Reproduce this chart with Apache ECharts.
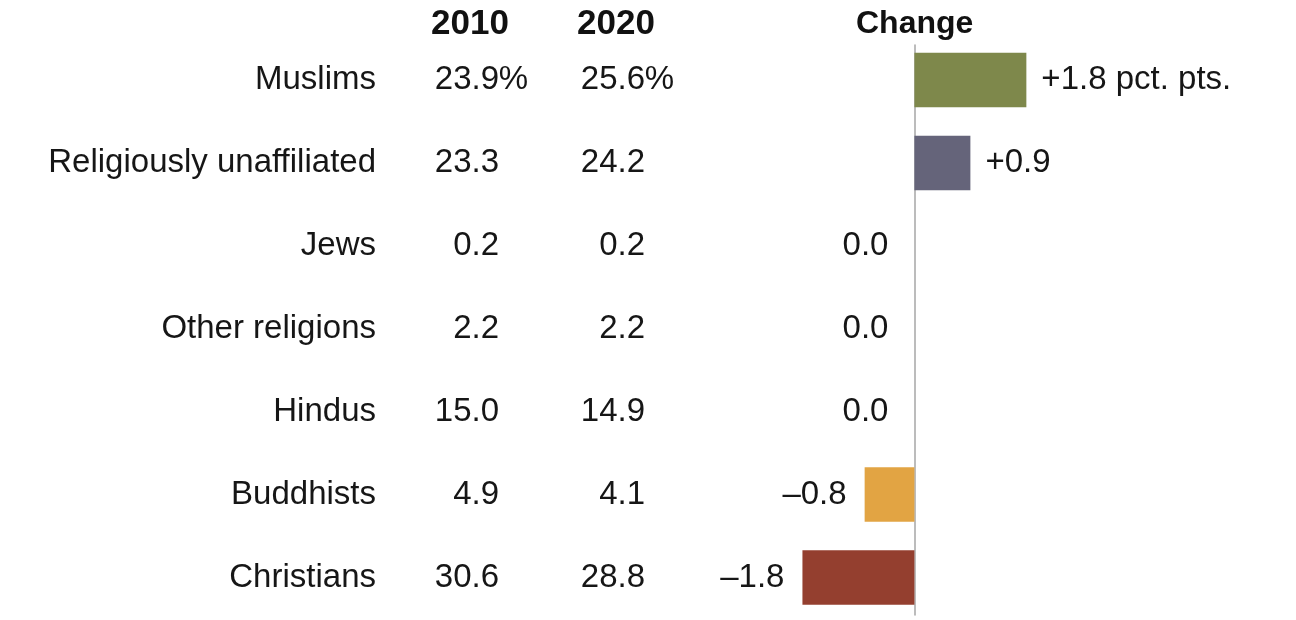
<!DOCTYPE html>
<html><head><meta charset="utf-8">
<script src="https://cdn.jsdelivr.net/npm/echarts@6/dist/echarts.min.js"></script>
<style>html,body{margin:0;padding:0;background:#fff}#c{width:1296px;height:620px}</style>
</head><body><div id="c"></div>
<script>
const categories = ['Muslims','Religiously unaffiliated','Jews','Other religions','Hindus','Buddhists','Christians'];
const share2010 = [23.9, 23.3, 0.2, 2.2, 15.0, 4.9, 30.6];
const share2020 = [25.6, 24.2, 0.2, 2.2, 14.9, 4.1, 28.8];
const change = [1.8, 0.9, 0.0, 0.0, 0.0, -0.8, -1.8];
const headers = ['2010', '2020', 'Change'];
const barColors = ['#7e884b', '#65647a', '#888888', '#888888', '#888888', '#e2a443', '#943f2f'];

const FONT = '"Liberation Sans", Arial, sans-serif';
const TXT = '#161616';
const FS = 33;

function fmtShare(v, i) {
  return i === 0 ? '{n|' + v.toFixed(1) + '}{p|%}' : '{n|' + v.toFixed(1) + '}{p|}';
}
function fmtChange(v, i) {
  let s = v > 0 ? '+' + v.toFixed(1) : v < 0 ? '\u2013' + Math.abs(v).toFixed(1) : v.toFixed(1);
  if (i === 0) s += ' pct. pts.';
  return s;
}
const richShare = {
  n: {fontFamily: FONT, fontSize: FS, color: TXT},
  p: {fontFamily: FONT, fontSize: FS, color: TXT, width: 29, align: 'left'}
};

const barData = change.map((v, i) => {
  let pos, dist;
  if (v > 0) { pos = 'right'; dist = 15; }
  else if (v < 0) { pos = 'left'; dist = 18; }
  else { pos = 'left'; dist = 26; }
  return {
    value: v,
    itemStyle: {color: barColors[i]},
    label: {show: true, position: pos, distance: dist, formatter: fmtChange(v, i)}
  };
});

const chart = echarts.init(document.getElementById('c'));
const GL = 790, GR = 195;
const headStyle = {fontFamily: FONT, fontWeight: 'bold', fill: '#111', verticalAlign: 'middle', align: 'left'};
chart.setOption({
  backgroundColor: '#fff',
  animation: false,
  grid: [
    {left: GL, right: GR, top: 38.5, bottom: 1, containLabel: false},
    {left: GL, right: GR, top: 45, bottom: 5, containLabel: false}
  ],
  xAxis: [
    {gridIndex: 0, type: 'value', min: -2, max: 3, show: false},
    {gridIndex: 1, type: 'value', min: -2, max: 3, axisLabel: {show: false}, axisTick: {show: false}, axisLine: {show: false}, splitLine: {show: false}}
  ],
  yAxis: [
    {gridIndex: 0, type: 'category', data: categories, inverse: true,
     axisLine: {show: false}, axisTick: {show: false}, splitLine: {show: false},
     axisLabel: {margin: GL - 376, fontFamily: FONT, fontSize: FS, color: TXT, align: 'right'}},
    {gridIndex: 0, type: 'category', data: share2010.map((v, i) => fmtShare(v, i)), inverse: true, position: 'left',
     axisLine: {show: false}, axisTick: {show: false}, splitLine: {show: false},
     axisLabel: {margin: GL - 528, align: 'right', rich: richShare, formatter: v => v}},
    {gridIndex: 0, type: 'category', data: share2020.map((v, i) => fmtShare(v, i)), inverse: true, position: 'left',
     axisLine: {show: false}, axisTick: {show: false}, splitLine: {show: false},
     axisLabel: {margin: GL - 674, align: 'right', rich: richShare, formatter: v => v}},
    {gridIndex: 1, type: 'value', min: 0, max: 1,
     axisLine: {show: true, onZero: true, lineStyle: {color: '#a6a6a6', width: 1.5}},
     axisTick: {show: false}, axisLabel: {show: false}, splitLine: {show: false}}
  ],
  series: [{
    type: 'bar',
    xAxisIndex: 0, yAxisIndex: 0,
    data: barData,
    barWidth: 54.5,
    label: {fontFamily: FONT, fontSize: FS, color: TXT},
    z: 3
  }],
  graphic: [
    {type: 'text', x: 431, y: 24, style: Object.assign({text: headers[0], fontSize: 35}, headStyle)},
    {type: 'text', x: 577, y: 24, style: Object.assign({text: headers[1], fontSize: 35}, headStyle)},
    {type: 'text', x: 856, y: 24, style: Object.assign({text: headers[2], fontSize: 32}, headStyle)}
  ]
});
</script>
</body></html>
